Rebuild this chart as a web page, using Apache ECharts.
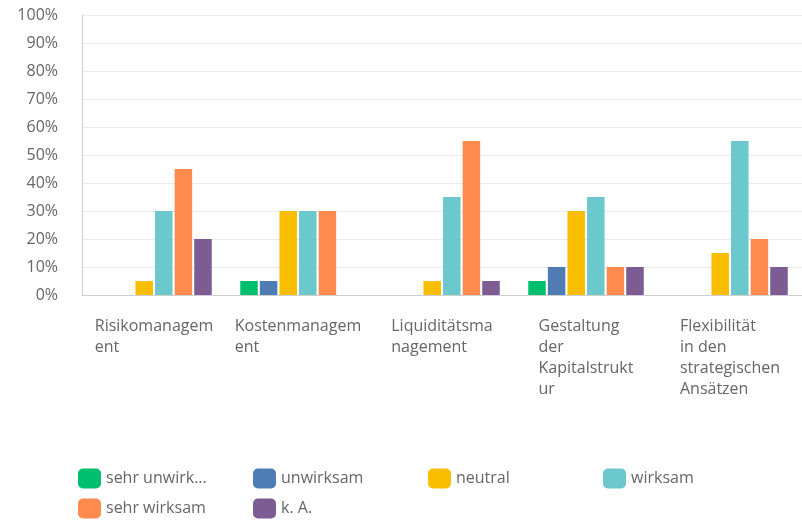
<!DOCTYPE html>
<html>
<head>
<meta charset="utf-8">
<script src="https://cdn.jsdelivr.net/npm/echarts@6/dist/echarts.min.js"></script>
<style>
  html, body { margin: 0; padding: 0; background: #fff; }
  #chart { width: 802px; height: 524px; }
</style>
</head>
<body>
<div id="chart"></div>
<script>
// Kategorien (x-Achse)
const categories = ['Risikomanagement', 'Kostenmanagement', 'Liquiditätsmanagement', 'Gestaltung der Kapitalstruktur', 'Flexibilität in den strategischen Ansätzen']
// Achsenbeschriftung mit Zeilenumbruch wie im Original
const categoryLabels = ['Risikomanagem\nent', 'Kostenmanagem\nent', 'Liquiditätsma\nnagement', 'Gestaltung\nder\nKapitalstrukt\nur', 'Flexibilität\nin den\nstrategischen\nAnsätzen']

// Werte in %
const sehrUnwirksam = [0, 5, 0, 5, 0]
const unwirksam = [0, 5, 0, 10, 0]
const neutral = [5, 30, 5, 30, 15]
const wirksam = [30, 30, 35, 35, 55]
const sehrWirksam = [45, 30, 55, 10, 20]
const kA = [20, 0, 5, 10, 10]

const yTicks = [0, 10, 20, 30, 40, 50, 60, 70, 80, 90, 100]

const seriesDefs = [
  { name: 'sehr unwirksam', data: sehrUnwirksam, color: '#00BF6F' },
  { name: 'unwirksam', data: unwirksam, color: '#507CB6' },
  { name: 'neutral', data: neutral, color: '#F9BE00' },
  { name: 'wirksam', data: wirksam, color: '#6BC8CD' },
  { name: 'sehr wirksam', data: sehrWirksam, color: '#FF8B4F' },
  { name: 'k. A.', data: kA, color: '#7D5B93' }
]

const font = "'Open Sans', 'Noto Sans', sans-serif"
const chart = echarts.init(document.getElementById('chart'), null, { renderer: 'canvas' })

chart.setOption({
  animation: false,
  grid: { left: 82, top: 15, width: 734, height: 280 },
  legend: {
    left: 78,
    top: 468,
    width: 720,
    padding: 0,
    itemGap: 9,
    itemWidth: 23,
    itemHeight: 20,
    icon: 'roundRect',
    data: seriesDefs.map(s => s.name),
    textStyle: {
      fontFamily: font,
      fontSize: 16,
      color: '#666',
      lineHeight: 21,
      width: 104,
      overflow: 'truncate',
      padding: [0, 34, 0, 0]
    }
  },
  xAxis: {
    type: 'category',
    data: categories,
    axisTick: { show: false },
    axisLine: { lineStyle: { color: '#cfcfcf' } },
    axisLabel: {
      interval: 0,
      margin: 21,
      formatter: (value, idx) => '{a|' + categoryLabels[idx] + '}',
      rich: {
        a: { align: 'left', fontFamily: font, fontSize: 16, lineHeight: 21, color: '#666' }
      }
    }
  },
  yAxis: {
    type: 'value',
    min: yTicks[0],
    max: yTicks[yTicks.length - 1],
    interval: yTicks[1] - yTicks[0],
    axisLine: { show: true, lineStyle: { color: '#cfcfcf' } },
    axisTick: { show: false },
    splitLine: { lineStyle: { color: '#ebebeb' } },
    axisLabel: {
      margin: 24,
      fontFamily: font,
      fontSize: 16,
      color: '#666',
      formatter: '{value}%'
    }
  },
  series: seriesDefs.map(s => ({
    name: s.name,
    type: 'bar',
    data: s.data,
    barWidth: 17.5,
    barGap: '12%',
    itemStyle: { color: s.color }
  }))
})
</script>
</body>
</html>
